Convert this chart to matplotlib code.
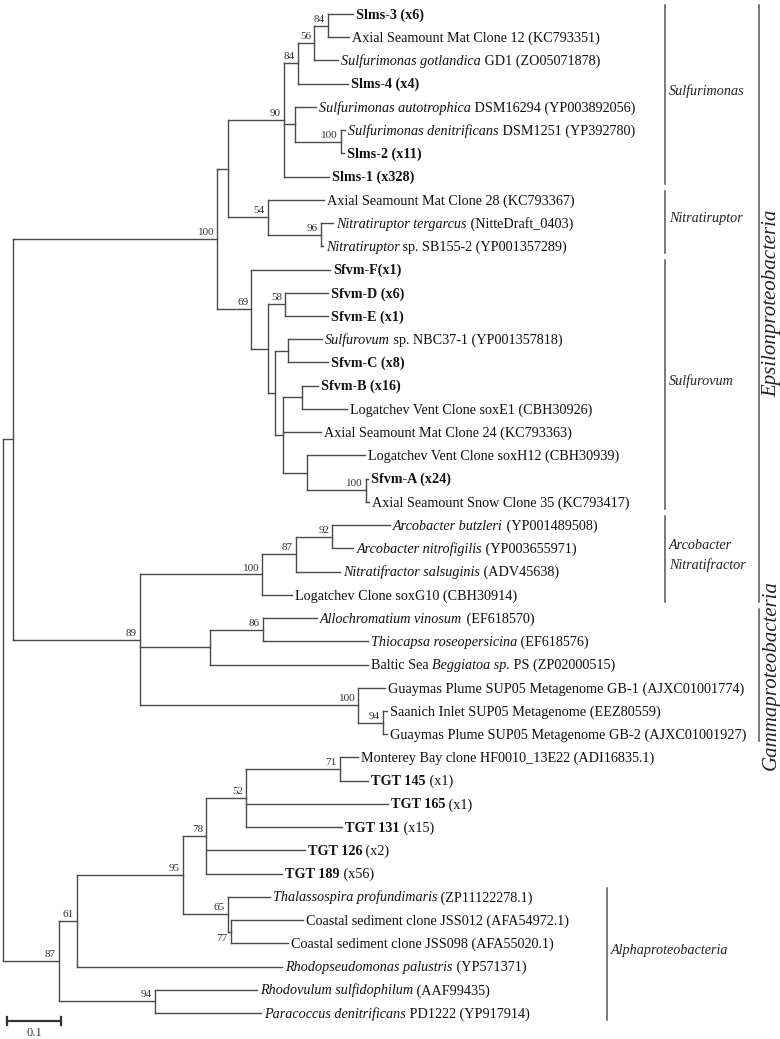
import re
import matplotlib
matplotlib.use('Agg')
import matplotlib.pyplot as plt
from matplotlib.transforms import offset_copy

plt.rcParams['font.family'] = ['Liberation Serif', 'DejaVu Serif']

# internal nodes (parent listed before child), branch lengths in subst./site
node_id = ['root', 'a', 'eps', 'sn', 'sm90', 'n84b', 'n56', 'n84a', 'n294', 'n100a',
           'ni54', 'n96', 'sf69', 'n268', 'n58', 'n275', 'n288', 'n283', 'n302', 'n307',
           'n366', 'g89', 'arc100', 'n87', 'n92', 'n210', 'n86', 'sup100', 'n94g',
           'al87', 'n61', 'n95', 'n78', 'n52', 'n71', 'n65', 'n77', 'n94a']
node_parent = [None, 'root', 'a', 'eps', 'sn', 'sm90', 'n84b', 'n56', 'sm90', 'n294',
               'sn', 'ni54', 'eps', 'sf69', 'n268', 'n268', 'n275', 'n275', 'n283', 'n283',
               'n307', 'a', 'g89', 'arc100', 'n87', 'g89', 'n210', 'g89', 'sup100',
               'root', 'al87', 'n61', 'n95', 'n78', 'n52', 'n95', 'n65', 'al87']
node_len = [0, 0.019, 0.378, 0.019, 0.104, 0.026, 0.030, 0.026, 0.020, 0.085,
            0.074, 0.098, 0.063, 0.031, 0.031, 0.013, 0.024, 0.015, 0.035, 0.044,
            0.109, 0.235, 0.226, 0.063, 0.067, 0.130, 0.098, 0.404, 0.046,
            0.104, 0.033, 0.196, 0.043, 0.074, 0.174, 0.083, 0.006, 0.178]
node_boot = [None, None, 100, None, 90, 84, 56, 84, None, 100,
             54, 96, 69, None, 58, None, None, None, None, None,
             100, 89, 100, 87, 92, None, 86, 100, 94,
             87, 61, 95, 78, 52, 71, 65, 77, 94]

# leaves, top to bottom
tip_parent = ['n84a', 'n84a', 'n56', 'n84b', 'n294', 'n100a', 'n100a', 'sm90',
              'ni54', 'n96', 'n96', 'sf69', 'n58', 'n58', 'n288', 'n288', 'n302', 'n302',
              'n283', 'n307', 'n366', 'n366', 'n92', 'n92', 'n87', 'arc100', 'n86', 'n86',
              'n210', 'sup100', 'n94g', 'n94g', 'n71', 'n71', 'n52', 'n52', 'n78', 'n78',
              'n65', 'n77', 'n77', 'n61', 'n94a', 'n94a']
tip_len = [0.046, 0.039, 0.044, 0.093, 0.039, 0.009, 0.006, 0.083,
           0.104, 0.024, 0.004, 0.146, 0.080, 0.080, 0.063, 0.074, 0.030, 0.083,
           0.069, 0.107, 0.004, 0.006, 0.107, 0.039, 0.081, 0.056, 0.100, 0.194,
           0.291, 0.050, 0.007, 0.007, 0.033, 0.052, 0.263, 0.178, 0.183, 0.141,
           0.078, 0.133, 0.106, 0.380, 0.189, 0.196]
tip_label = [
    '<b>Slms-3 (x6)</b>',
    'Axial Seamount Mat Clone 12 (KC793351)',
    '<i>Sulfurimonas gotlandica</i> GD1 (ZO05071878)',
    '<b>Slms-4 (x4)</b>',
    '<i>Sulfurimonas autotrophica</i> DSM16294 (YP003892056)',
    '<i>Sulfurimonas denitrificans</i> DSM1251 (YP392780)',
    '<b>Slms-2 (x11)</b>',
    '<b>Slms-1 (x328)</b>',
    'Axial Seamount Mat Clone 28 (KC793367)',
    '<i>Nitratiruptor tergarcus</i> (NitteDraft_0403)',
    '<i>Nitratiruptor</i> sp. SB155-2 (YP001357289)',
    '<b>Sfvm-F(x1)</b>',
    '<b>Sfvm-D (x6)</b>',
    '<b>Sfvm-E (x1)</b>',
    '<i>Sulfurovum</i> sp. NBC37-1 (YP001357818)',
    '<b>Sfvm-C (x8)</b>',
    '<b>Sfvm-B (x16)</b>',
    'Logatchev Vent Clone soxE1 (CBH30926)',
    'Axial Seamount Mat Clone 24 (KC793363)',
    'Logatchev Vent Clone soxH12 (CBH30939)',
    '<b>Sfvm-A (x24)</b>',
    'Axial Seamount Snow Clone 35 (KC793417)',
    '<i>Arcobacter butzleri</i> (YP001489508)',
    '<i>Arcobacter nitrofigilis</i> (YP003655971)',
    '<i>Nitratifractor salsuginis</i> (ADV45638)',
    'Logatchev Clone soxG10 (CBH30914)',
    '<i>Allochromatium vinosum</i> (EF618570)',
    '<i>Thiocapsa roseopersicina</i> (EF618576)',
    'Baltic Sea <i>Beggiatoa sp.</i> PS (ZP02000515)',
    'Guaymas Plume SUP05 Metagenome GB-1 (AJXC01001774)',
    'Saanich Inlet SUP05 Metagenome (EEZ80559)',
    'Guaymas Plume SUP05 Metagenome GB-2 (AJXC01001927)',
    'Monterey Bay clone HF0010_13E22 (ADI16835.1)',
    '<b>TGT 145</b> (x1)',
    '<b>TGT 165</b> (x1)',
    '<b>TGT 131</b> (x15)',
    '<b>TGT 126</b> (x2)',
    '<b>TGT 189</b> (x56)',
    '<i>Thalassospira profundimaris</i> (ZP11122278.1)',
    'Coastal sediment clone JSS012 (AFA54972.1)',
    'Coastal sediment clone JSS098 (AFA55020.1)',
    '<i>Rhodopseudomonas palustris</i> (YP571371)',
    '<i>Rhodovulum sulfidophilum</i> (AAF99435)',
    '<i>Paracoccus denitrificans</i> PD1222 (YP917914)',
]

clade_name = ['Sulfurimonas', 'Nitratiruptor', 'Sulfurovum', 'Arcobacter\nNitratifractor',
              'Epsilonproteobacteria', 'Gammaproteobacteria', 'Alphaproteobacteria']
clade_first = [0, 8, 11, 22, 0, 26, 38]
clade_last = [7, 10, 21, 25, 25, 31, 43]
clade_bar_x = [1.226, 1.226, 1.226, 1.226, 1.40, 1.40, 1.1185]
clade_rotated = [False, False, False, False, True, True, False]

LC = '#4a4a4a'
LW = 1.0

fig = plt.figure(figsize=(7.8, 10.39), dpi=100)
ax = fig.add_axes([0, 0, 1, 1])
ax.axis('off')
ax.set_xlim(-0.00556, 1.43889)
ax.set_ylim(44.12, -0.603)

# node positions
x = {}
for nid, par, ln in zip(node_id, node_parent, node_len):
    x[nid] = (x[par] if par else 0.0) + ln
tip_x = [x[p] + l for p, l in zip(tip_parent, tip_len)]

children = {nid: [] for nid in node_id}
for i, p in enumerate(tip_parent):
    children[p].append(('tip', i))
for nid, par in zip(node_id, node_parent):
    if par:
        children[par].append(('node', nid))

y = {}
for nid in reversed(node_id):
    ys = [c if kind == 'tip' else y[c] for kind, c in children[nid]]
    y[nid] = (min(ys) + max(ys)) / 2

# branches
for i, p in enumerate(tip_parent):
    ax.plot([x[p], tip_x[i]], [i, i], color=LC, lw=LW, solid_capstyle='projecting')
for nid, par in zip(node_id, node_parent):
    if par:
        ax.plot([x[par], x[nid]], [y[nid], y[nid]], color=LC, lw=LW,
                solid_capstyle='projecting')
    ys = [c if kind == 'tip' else y[c] for kind, c in children[nid]]
    ax.plot([x[nid], x[nid]], [min(ys), max(ys)], color=LC, lw=LW,
            solid_capstyle='projecting')

# bootstrap values
for nid, b in zip(node_id, node_boot):
    if b is None:
        continue
    if nid == 'n77':
        ax.annotate(str(b), (x[nid], y[nid]), xytext=(-2.5, -1.5), textcoords='offset points',
                    ha='right', va='top', fontsize=8, color='#333333')
    else:
        ax.annotate(str(b), (x[nid], y[nid]), xytext=(-2.2, 1.4), textcoords='offset points',
                    ha='right', va='bottom', fontsize=8, color='#333333')

# leaf labels with mixed styles
renderer = fig.canvas.get_renderer()
for i, lab in enumerate(tip_label):
    size = 10.3 if 'SUP05' in lab else 10.2
    dx = 3.0
    for part in re.split(r'(<[ib]>.*?</[ib]>)', lab):
        if not part:
            continue
        kw = {}
        if part.startswith('<i>'):
            kw['style'] = 'italic'
        elif part.startswith('<b>'):
            kw['weight'] = 'bold'
        seg = re.sub(r'</?[ib]>', '', part)
        t = ax.text(tip_x[i], i, seg, fontsize=size, color='#111111', ha='left', va='baseline',
                    transform=offset_copy(ax.transData, fig=fig, x=dx, y=-4.6, units='dots'), **kw)
        dx += t.get_window_extent(renderer).width

# clade bars
for name, f, l, bx, rot in zip(clade_name, clade_first, clade_last, clade_bar_x, clade_rotated):
    y0, y1 = f - 0.4, l + 0.3
    ax.plot([bx, bx], [y0, y1], color='#555555', lw=1.1)
    if rot:
        ax.text(bx + 0.006, (y0 + y1) / 2, name, rotation=90, style='italic', fontsize=15,
                ha='left', va='center', color='#222222')
    else:
        ax.text(bx + 0.007, (y0 + y1) / 2 - 0.15, name, style='italic', fontsize=10.2,
                ha='left', va='center', color='#222222', linespacing=1.6)

# scale bar
sb_x, sb_y, sb_len = 0.0074, 43.35, 0.1
ax.plot([sb_x, sb_x + sb_len], [sb_y, sb_y], color='#333333', lw=1.6)
ax.plot([sb_x, sb_x], [sb_y - 0.17, sb_y + 0.17], color='#333333', lw=1.6)
ax.plot([sb_x + sb_len, sb_x + sb_len], [sb_y - 0.17, sb_y + 0.17], color='#333333', lw=1.6)
ax.text(sb_x + sb_len / 2, sb_y + 0.5, '0.1', ha='center', va='center', fontsize=9,
        color='#333333')

fig.savefig('out.png', dpi=100)
